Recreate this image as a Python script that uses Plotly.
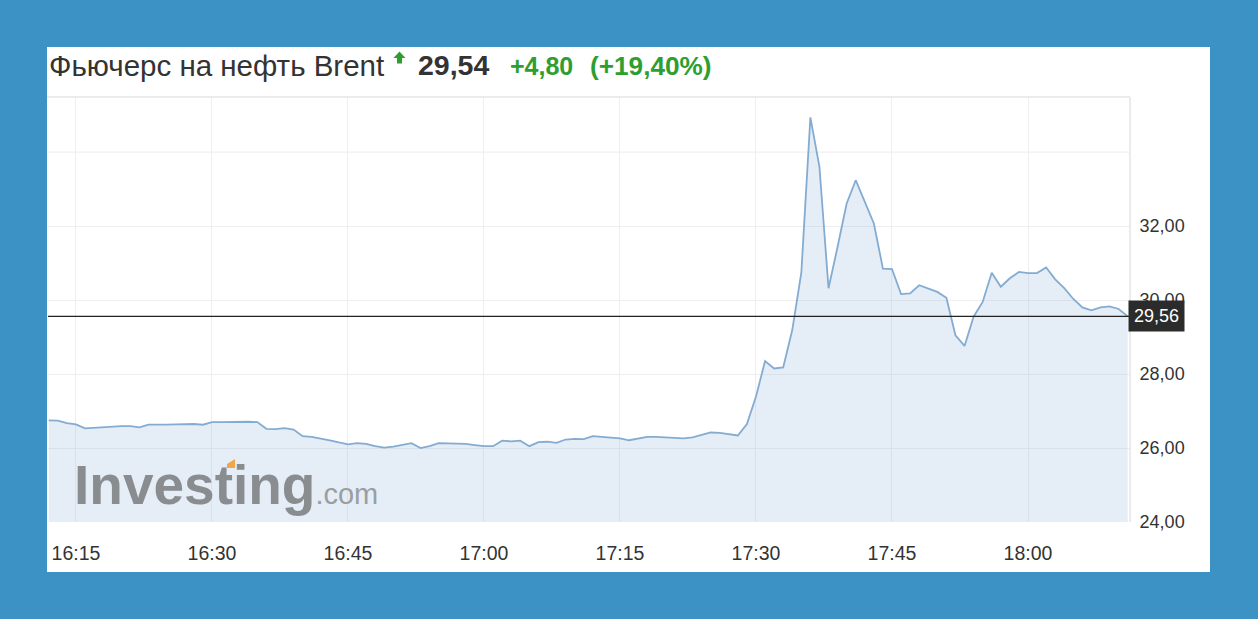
import pandas as pd
import plotly.graph_objects as go

# ---- data (1-minute Brent futures quotes) ----
start_time = "2020-04-02 16:12"
prices = [
    26.75, 26.74, 26.67, 26.64, 26.53, 26.55, 26.57, 26.57, 26.59, 26.59,
    26.56, 26.63, 26.62, 26.63, 26.64, 26.65, 26.65, 26.63, 26.70, 26.70,
    26.71, 26.71, 26.71, 26.70, 26.52, 26.51, 26.54, 26.50, 26.32, 26.30,
    26.26, 26.21, 26.15, 26.10, 26.13, 26.11, 26.05, 26.01, 26.04, 26.08,
    26.13, 26.00, 26.05, 26.13, 26.13, 26.13, 26.11, 26.08, 26.05, 26.05,
    26.20, 26.18, 26.20, 26.05, 26.16, 26.17, 26.14, 26.23, 26.25, 26.24,
    26.32, 26.30, 26.28, 26.26, 26.21, 26.26, 26.30, 26.30, 26.29, 26.28,
    26.26, 26.29, 26.36, 26.42, 26.41, 26.38, 26.34, 26.65, 27.39, 28.35,
    28.15, 28.18, 29.19, 30.74, 34.94, 33.60, 30.32, 31.44, 32.61, 33.24,
    32.66, 32.07, 30.85, 30.84, 30.16, 30.18, 30.40, 30.32, 30.22, 30.06,
    29.05, 28.76, 29.55, 29.95, 30.74, 30.36, 30.59, 30.76, 30.73, 30.73,
    30.88, 30.56, 30.32, 30.03, 29.80, 29.72, 29.80, 29.83, 29.76, 29.56,
]
times = pd.date_range(start_time, periods=len(prices), freq="1min")

x_tick_times = ["2020-04-02 16:15", "2020-04-02 16:30", "2020-04-02 16:45", "2020-04-02 17:00",
                "2020-04-02 17:15", "2020-04-02 17:30", "2020-04-02 17:45", "2020-04-02 18:00"]
x_tick_labels = ["16:15", "16:30", "16:45", "17:00", "17:15", "17:30", "17:45", "18:00"]
y_tick_vals = [24, 26, 28, 30, 32]
y_tick_labels = ["24,00", "26,00", "28,00", "30,00", "32,00"]
extra_grid = [34]
last_price = 29.56
last_label = "29,56"

title_name = "Фьючерс на нефть Brent"
title_price = "29,54"
title_change = "+4,80"
title_pct = "(+19,40%)"

x_range = ["2020-04-02 16:11:55", "2020-04-02 18:11:15"]
y_range = [24, 35.49]

# ---- layout geometry (pixels) ----
W, H = 1258, 619
L, R, T, B = 48, 128, 97, 97
PW, PH = W - L - R, H - T - B


def px(xp):
    return (xp - L) / PW


def py(yp):
    return (H - B - yp) / PH


BLUE = "#3c91c5"
GREEN = "#2f9e30"
DARK = "#333333"
GRID = "#eeeeee"
FONT = "Liberation Sans, Arial"

fig = go.Figure()
fig.add_trace(go.Scatter(
    x=times, y=prices, mode="lines",
    line=dict(color="#84acd1", width=1.8),
    fill="tozeroy", fillcolor="rgba(160,190,225,0.28)",
    hoverinfo="skip", showlegend=False,
))

shapes = [
    # white panel
    dict(type="rect", xref="paper", yref="paper", layer="below",
         x0=px(47), x1=px(1210), y0=py(572), y1=py(47),
         fillcolor="white", line=dict(width=0)),
    # plot frame: top and right
    dict(type="line", xref="paper", yref="paper", x0=px(47), x1=1, y0=1, y1=1,
         line=dict(color="#e4e4e4", width=1.5)),
    dict(type="line", xref="paper", yref="paper", x0=1, x1=1, y0=0, y1=1,
         line=dict(color="#e4e4e4", width=1.5)),
    # last price line
    dict(type="line", xref="paper", yref="y", x0=0, x1=1, y0=last_price, y1=last_price,
         line=dict(color="#222222", width=1.4)),
    # green up arrow
    dict(type="path", xref="paper", yref="paper",
         path=(f"M {px(399.5)},{py(51.5)} L {px(405.5)},{py(58)} L {px(402)},{py(58)} "
               f"L {px(402)},{py(63.5)} L {px(397)},{py(63.5)} L {px(397)},{py(58)} "
               f"L {px(393.5)},{py(58)} Z"),
         fillcolor=GREEN, line=dict(width=0)),
    # orange accent of the watermark logo
    dict(type="path", xref="paper", yref="paper",
         path=(f"M {px(227)},{py(468)} L {px(227)},{py(464)} L {px(235)},{py(459)} "
               f"L {px(235)},{py(468)} Z"),
         fillcolor="#f2a54a", line=dict(width=0)),
]
for g in extra_grid:
    shapes.append(dict(type="line", xref="paper", yref="y", layer="below",
                       x0=0, x1=1, y0=g, y1=g, line=dict(color=GRID, width=1)))

annotations = [
    dict(text=title_name, xref="paper", yref="paper", x=px(47), y=py(65),
         xanchor="left", yanchor="middle", showarrow=False,
         font=dict(family=FONT, size=29.5, color=DARK)),
    dict(text=f"<b>{title_price}</b>", xref="paper", yref="paper", x=px(416), y=py(65),
         xanchor="left", yanchor="middle", showarrow=False,
         font=dict(family=FONT, size=28.5, color=DARK)),
    dict(text=f"<b>{title_change}</b>", xref="paper", yref="paper", x=px(508), y=py(66),
         xanchor="left", yanchor="middle", showarrow=False,
         font=dict(family=FONT, size=25, color=GREEN)),
    dict(text=f"<b>{title_pct}</b>", xref="paper", yref="paper", x=px(588), y=py(66),
         xanchor="left", yanchor="middle", showarrow=False,
         font=dict(family=FONT, size=26.2, color=GREEN)),
    # watermark logo
    dict(text="<b>Investing</b><span style='font-size:29px;color:#9b9ea1'>.com</span>",
         xref="paper", yref="paper", x=px(72), y=py(485),
         xanchor="left", yanchor="middle", showarrow=False,
         font=dict(family=FONT, size=55, color="#8a8d90")),
    # last price label
    dict(text=last_label, xref="paper", yref="y", x=1, y=last_price,
         xanchor="left", yanchor="middle", showarrow=False, xshift=-2,
         bgcolor="#2b2b2b", borderpad=5,
         font=dict(family=FONT, size=18, color="white")),
]

fig.update_layout(
    width=W, height=H,
    margin=dict(l=L, r=R, t=T, b=B),
    paper_bgcolor=BLUE, plot_bgcolor="rgba(0,0,0,0)",
    shapes=shapes, annotations=annotations,
    showlegend=False,
    xaxis=dict(
        type="date", range=x_range,
        tickvals=x_tick_times, ticktext=x_tick_labels,
        showgrid=True, gridcolor=GRID, gridwidth=1,
        zeroline=False, showline=False,
        ticks="outside", ticklen=14, tickcolor="rgba(0,0,0,0)",
        tickfont=dict(family=FONT, size=19.5, color=DARK),
    ),
    yaxis=dict(
        side="right", range=y_range,
        tickvals=y_tick_vals, ticktext=y_tick_labels,
        showgrid=True, gridcolor=GRID, gridwidth=1,
        zeroline=False, showline=False,
        ticks="outside", ticklen=5, tickcolor="rgba(0,0,0,0)",
        tickfont=dict(family=FONT, size=18, color=DARK),
    ),
)

fig.write_html(
    "out.html",
    config={"displayModeBar": False},
    post_script="document.body.style.margin='0';document.body.style.background='#3c91c5';",
)
